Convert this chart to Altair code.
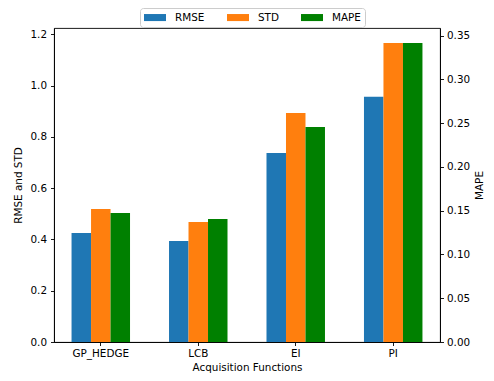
import altair as alt
import pandas as pd

funcs = ["GP_HEDGE", "LCB", "EI", "PI"]
metrics = ["RMSE", "STD", "MAPE"]
rmse = [0.425, 0.394, 0.737, 0.956]
std = [0.519, 0.468, 0.893, 1.166]
mape = [0.1474, 0.1406, 0.2457, 0.3417]
left_ticks = [0.0, 0.2, 0.4, 0.6, 0.8, 1.0, 1.2]
right_ticks = [0.0, 0.05, 0.10, 0.15, 0.20, 0.25, 0.30, 0.35]
colors = ["#1f77b4", "#ff7f0e", "#008000"]

rows = []
for i, f in enumerate(funcs):
    rows.append({"func": f, "metric": "RMSE", "value": rmse[i]})
    rows.append({"func": f, "metric": "STD", "value": std[i]})
    rows.append({"func": f, "metric": "MAPE", "value": mape[i]})
df = pd.DataFrame(rows)

left_max = max(max(rmse), max(std)) * 1.05
right_max = max(mape) * 1.05

FONT = "DejaVu Sans"
FS = 10.4

x_enc = alt.X(
    "func:N",
    sort=funcs,
    scale=alt.Scale(paddingInner=0.4, paddingOuter=0.18),
    axis=alt.Axis(labelAngle=0, title="Acquisition Functions", labelPadding=3, titlePadding=4),
)
xoff = alt.XOffset("metric:N", sort=metrics,
                   scale=alt.Scale(domain=metrics, paddingInner=0, paddingOuter=0))
color = alt.Color(
    "metric:N",
    scale=alt.Scale(domain=metrics, range=colors),
    legend=alt.Legend(
        title=None,
        orient="none",
        legendX=86,
        legendY=-20,
        direction="horizontal",
        symbolType="M-2,-0.64H2V0.64H-2Z",
        symbolSize=121,
        symbolOffset=5.5,
        symbolStrokeWidth=0,
        labelOffset=14.5,
        columnPadding=22,
        padding=4,
        strokeColor="#cccccc",
        fillColor="white",
        cornerRadius=3,
        labelFont=FONT,
        labelFontSize=FS,
        labelColor="#000000",
    ),
)

left = alt.Chart(df).transform_filter(
    alt.FieldOneOfPredicate(field="metric", oneOf=["RMSE", "STD"])
).mark_bar().encode(
    x=x_enc,
    xOffset=xoff,
    y=alt.Y(
        "value:Q",
        scale=alt.Scale(domain=[0, left_max], nice=False, zero=True),
        axis=alt.Axis(title="RMSE and STD", values=left_ticks, format=".1f",
                      orient="left", labelPadding=4, titlePadding=6),
    ),
    color=color,
)

right = alt.Chart(df).transform_filter(
    alt.FieldEqualPredicate(field="metric", equal="MAPE")
).mark_bar().encode(
    x=x_enc,
    xOffset=xoff,
    y=alt.Y(
        "value:Q",
        scale=alt.Scale(domain=[0, right_max], nice=False, zero=True),
        axis=alt.Axis(title="MAPE", values=right_ticks, format=".2f",
                      orient="right", titleAngle=270, labelPadding=3, titlePadding=15),
    ),
    color=color,
)

chart = alt.layer(left, right).resolve_scale(y="independent").properties(
    width=386,
    height=314,
    autosize=alt.AutoSizeParams(type="none"),
    padding={"left": 46, "top": 20, "right": 46, "bottom": 31},
).configure_view(
    stroke="#000000", strokeWidth=0.9
).configure_axis(
    grid=False,
    labelFont=FONT,
    labelFontSize=FS,
    labelColor="#000000",
    titleFont=FONT,
    titleFontSize=FS,
    titleFontWeight="normal",
    titleColor="#000000",
    tickColor="#000000",
    tickSize=3.5,
    tickWidth=0.9,
    domainColor="#000000",
    domainWidth=0.9,
)

chart.save("out.html", embed_options={"renderer": "svg", "actions": False})
